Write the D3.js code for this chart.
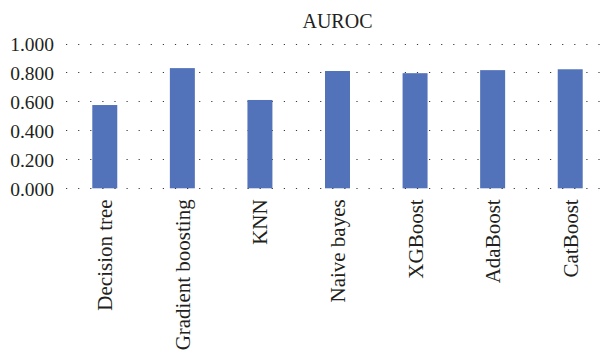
<!DOCTYPE html>
<html>
<head>
<meta charset="utf-8">
<script src="https://cdn.jsdelivr.net/npm/d3@7"></script>
<style>
  html, body { margin: 0; padding: 0; background: #fff; }
  svg { display: block; }
</style>
</head>
<body>
<svg id="chart" width="603" height="356"></svg>
<script>
// AUROC per classifier
const models = ["Decision tree", "Gradient boosting", "KNN", "Naive bayes", "XGBoost", "AdaBoost", "CatBoost"];
const auroc = [0.575, 0.830, 0.610, 0.810, 0.795, 0.816, 0.822];
const yTicks = [0, 0.2, 0.4, 0.6, 0.8, 1.0];
const title = "AUROC";

const FONT = '"Liberation Serif", "Times New Roman", serif';
const INK = "#231f20";

const svg = d3.select("#chart");
const W = 603;
const plot = { left: 66, right: 609, top: 43.5, bottom: 188.3 };

const x = d3.scaleBand()
  .domain(models)
  .range([plot.left, plot.right])
  .paddingInner(0.678)
  .paddingOuter(0.339);

const y = d3.scaleLinear()
  .domain([0, 1])
  .range([plot.bottom, plot.top]);

function dotted(sel) {
  sel.attr("x1", plot.left)
    .attr("x2", W)
    .attr("y1", d => Math.round(y(d)) + 0.5)
    .attr("y2", d => Math.round(y(d)) + 0.5)
    .attr("stroke", "#3a3a3a")
    .attr("stroke-width", 1.1)
    .attr("stroke-dasharray", "1.2 10.9");
}

// dotted horizontal gridlines behind the bars
svg.append("g")
  .selectAll("line")
  .data(yTicks.filter(d => d > 0))
  .join("line")
  .call(dotted);

// bars
svg.append("g")
  .selectAll("rect")
  .data(models)
  .join("rect")
  .attr("x", d => x(d))
  .attr("width", x.bandwidth())
  .attr("y", (d, i) => y(auroc[i]))
  .attr("height", (d, i) => y(0) - y(auroc[i]))
  .attr("fill", "#5272b9");

// baseline dots sit on top of the bars
svg.append("g")
  .selectAll("line")
  .data([0])
  .join("line")
  .call(dotted);

// y axis labels
const yAxis = d3.axisLeft(y)
  .tickValues(yTicks)
  .tickFormat(d3.format(".3f"))
  .tickSize(0)
  .tickPadding(0);

svg.append("g")
  .attr("transform", `translate(${plot.left - 12},0)`)
  .call(yAxis)
  .call(g => g.select(".domain").remove())
  .call(g => g.selectAll("text")
    .style("font-family", FONT)
    .style("font-size", "19.5px")
    .style("fill", INK)
    .attr("dy", "0.36em"));

// x axis labels, rotated
const xAxis = d3.axisBottom(x).tickSize(0).tickPadding(0);
svg.append("g")
  .attr("transform", `translate(0,${plot.bottom})`)
  .call(xAxis)
  .call(g => g.select(".domain").remove())
  .call(g => g.selectAll("text")
    .style("font-family", FONT)
    .style("font-size", "21px")
    .style("fill", INK)
    .attr("text-anchor", "end")
    .attr("transform", "rotate(-90)")
    .attr("x", -11)
    .attr("y", 0)
    .attr("dy", "0.36em"));

// title
svg.append("text")
  .attr("x", 337.5)
  .attr("y", 28)
  .attr("text-anchor", "middle")
  .style("font-family", FONT)
  .style("font-size", "20px")
  .style("fill", INK)
  .text(title);
</script>
</body>
</html>
